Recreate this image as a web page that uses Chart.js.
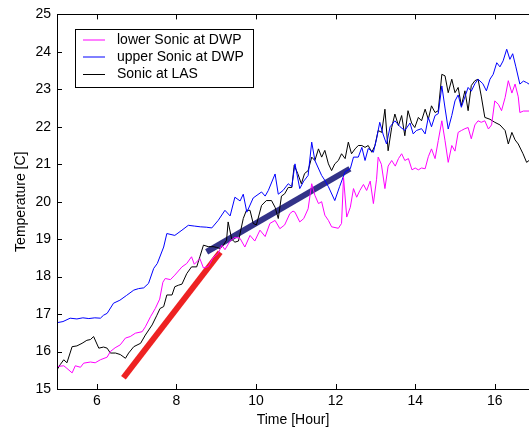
<!DOCTYPE html>
<html>
<head>
<meta charset="utf-8">
<script src="https://cdn.jsdelivr.net/npm/chart.js@4.4.1/dist/chart.umd.min.js"></script>
<style>
html,body{margin:0;padding:0;background:#fff;}
canvas{display:block;}
</style>
</head>
<body>
<canvas id="c" width="529" height="431"></canvas>
<script>
// ---- data ----
const xTicks = [6, 8, 10, 12, 14, 16];
const yTicks = [15, 16, 17, 18, 19, 20, 21, 22, 23, 24, 25];
const seriesLabels = ['lower Sonic at DWP', 'upper Sonic at DWP', 'Sonic at LAS'];

const lowerT = [5.00,5.17,5.25,5.38,5.46,5.59,5.67,5.84,5.96,6.09,6.26,6.34,6.46,6.59,6.72,6.84,6.97,7.14,7.22,7.35,7.47,7.58,7.66,7.72,7.85,7.96,8.05,8.14,8.26,8.38,8.45,8.59,8.68,8.80,8.92,9.05,9.14,9.22,9.35,9.47,9.60,9.72,9.85,9.97,10.10,10.23,10.35,10.48,10.60,10.72,10.85,10.93,10.98,11.10,11.20,11.31,11.40,11.48,11.57,11.65,11.73,11.82,11.90,12.07,12.15,12.20,12.28,12.37,12.45,12.53,12.61,12.70,12.78,12.87,12.95,13.03,13.07,13.15,13.24,13.32,13.41,13.50,13.58,13.66,13.74,13.83,13.92,14.00,14.08,14.16,14.25,14.33,14.41,14.50,14.58,14.67,14.75,14.83,14.92,15.00,15.08,15.16,15.25,15.33,15.41,15.50,15.58,15.66,15.75,15.84,15.92,16.00,16.09,16.17,16.26,16.34,16.43,16.51,16.59,16.63,16.72,16.86];
const lowerV = [15.60,15.62,15.55,15.43,15.62,15.58,15.69,15.72,15.70,15.78,15.85,16.00,16.10,16.18,16.36,16.40,16.49,16.53,16.66,16.93,17.15,17.40,17.85,17.95,17.92,18.04,18.15,18.26,18.35,18.53,18.33,18.48,18.23,18.27,18.50,18.62,18.84,18.72,18.95,19.05,19.02,18.79,19.10,18.95,19.24,19.07,19.42,19.50,19.28,19.38,19.68,19.75,19.72,19.46,19.55,19.81,20.48,20.17,19.95,20.00,19.64,19.50,19.33,19.29,19.42,20.65,19.59,19.85,20.35,20.12,20.30,20.46,20.30,20.55,19.95,20.60,21.19,21.00,20.35,20.95,21.10,20.95,21.15,21.28,21.10,21.15,20.85,20.90,20.85,20.90,20.88,21.20,21.41,21.15,21.63,22.16,21.63,21.05,21.50,21.35,21.85,21.90,21.95,21.98,21.68,22.05,22.16,22.12,22.16,21.94,22.05,22.69,22.60,22.43,22.78,23.23,22.90,23.14,22.80,22.38,22.42,22.42];

const upperT = [5.00,5.15,5.33,5.50,5.65,5.80,5.95,6.09,6.17,6.26,6.42,6.58,6.75,6.93,7.05,7.18,7.30,7.43,7.52,7.68,7.76,7.96,8.14,8.30,8.45,8.60,8.75,8.89,9.05,9.22,9.35,9.47,9.60,9.68,9.77,9.93,10.14,10.23,10.31,10.48,10.56,10.68,10.81,10.90,10.98,11.10,11.20,11.31,11.40,11.48,11.65,11.73,11.82,11.98,12.10,12.24,12.37,12.45,12.57,12.66,12.74,12.82,12.95,13.03,13.11,13.20,13.28,13.37,13.49,13.62,13.74,13.87,13.95,14.03,14.16,14.25,14.33,14.41,14.50,14.58,14.67,14.75,14.83,14.92,15.00,15.08,15.16,15.25,15.33,15.41,15.50,15.58,15.70,15.79,15.88,15.96,16.05,16.13,16.21,16.30,16.38,16.45,16.53,16.63,16.72,16.80,16.86];
const upperV = [16.77,16.80,16.89,16.87,16.90,16.88,16.90,16.89,16.97,17.02,17.29,17.37,17.50,17.64,17.68,17.70,17.82,18.22,18.35,18.79,19.15,19.10,19.24,19.37,19.35,19.33,19.32,19.30,19.50,19.77,19.62,20.12,20.02,20.20,19.72,20.10,20.26,20.15,20.30,20.74,20.20,20.30,20.48,20.40,21.01,20.35,20.55,20.70,21.59,21.10,20.70,20.57,20.40,20.03,20.40,20.80,20.88,21.19,21.19,21.45,21.10,21.42,21.32,21.68,22.12,21.78,21.54,22.00,22.16,22.00,21.90,22.10,21.81,21.90,21.95,21.81,22.25,22.00,22.30,22.35,23.09,22.50,21.94,22.30,22.69,22.85,22.52,22.80,23.05,22.95,23.15,23.27,23.15,22.96,23.27,23.40,23.71,23.60,23.76,24.07,23.80,23.95,23.60,23.14,23.22,23.18,23.14];

const lasT = [5.00,5.08,5.17,5.25,5.38,5.50,5.63,5.75,5.84,5.92,6.05,6.17,6.26,6.34,6.47,6.59,6.72,6.80,6.93,7.10,7.22,7.39,7.51,7.59,7.68,7.76,7.89,7.96,8.05,8.14,8.26,8.38,8.51,8.59,8.68,8.80,8.92,9.01,9.10,9.18,9.26,9.30,9.39,9.47,9.56,9.68,9.76,9.85,9.93,10.01,10.14,10.26,10.39,10.48,10.56,10.64,10.72,10.81,10.90,10.96,11.05,11.14,11.22,11.31,11.40,11.48,11.57,11.65,11.73,11.82,11.90,11.98,12.07,12.15,12.24,12.32,12.40,12.49,12.57,12.66,12.74,12.82,12.91,12.99,13.07,13.16,13.24,13.32,13.41,13.49,13.58,13.66,13.74,13.82,13.91,13.99,14.08,14.16,14.25,14.33,14.41,14.50,14.58,14.67,14.75,14.83,14.92,15.00,15.08,15.16,15.25,15.33,15.41,15.50,15.58,15.66,15.75,15.88,16.00,16.13,16.26,16.34,16.43,16.51,16.59,16.71,16.80,16.86];
const lasV = [15.51,15.65,15.78,15.70,16.13,16.15,16.22,16.30,16.32,16.40,16.09,16.12,16.09,15.96,15.96,15.92,15.82,15.96,16.13,16.22,16.44,16.71,16.97,17.15,17.20,17.51,17.51,17.73,17.77,17.80,18.08,18.26,18.26,18.53,18.84,18.80,18.80,18.78,18.75,18.84,18.97,19.46,19.00,18.92,18.95,19.55,19.77,19.77,19.42,19.38,19.90,20.03,20.03,19.85,19.55,20.15,20.21,20.38,20.38,20.97,20.75,20.48,20.75,20.83,21.19,21.10,21.41,21.19,21.37,21.01,20.83,21.01,21.10,21.28,21.15,21.59,21.28,21.41,21.50,21.50,21.45,21.50,21.32,21.50,21.90,21.85,22.47,21.36,21.98,22.34,22.03,22.30,21.76,22.43,22.10,21.98,22.25,22.16,22.47,22.20,22.56,22.38,22.43,23.40,23.36,22.91,23.27,22.91,23.05,22.56,22.96,22.43,23.10,23.23,23.27,22.82,22.25,22.20,22.12,22.05,21.90,21.54,21.85,21.65,21.54,21.28,21.05,21.10];

// fitted trend segments (end points)
const redFitT = [6.67, 9.10];
const redFitV = [15.30, 18.65];
const blueFitT = [8.76, 12.36];
const blueFitV = [18.66, 20.88];

function pts(ts, vs) { return ts.map((t, i) => ({x: t, y: vs[i]})); }

const FONT = "'Liberation Sans', Arial, sans-serif";
const FS = 14;

const framePlugin = {
  id: 'frame',
  afterDatasetsDraw(chart) {
    const {ctx, chartArea: a, scales: {x, y}} = chart;
    ctx.save();
    ctx.strokeStyle = '#000';
    ctx.lineWidth = 1;
    ctx.beginPath();
    ctx.rect(Math.round(a.left) + 0.5, Math.round(a.top) + 0.5, Math.round(a.right - a.left) + 2, Math.round(a.bottom - a.top));
    ctx.stroke();
    const tl = 5;
    ctx.beginPath();
    for (const v of yTicks) {
      const py = Math.round(y.getPixelForValue(v)) + 0.5;
      ctx.moveTo(a.left, py); ctx.lineTo(a.left + tl, py);
    }
    for (const v of xTicks) {
      const px = Math.round(x.getPixelForValue(v)) + 0.5;
      ctx.moveTo(px, a.bottom); ctx.lineTo(px, a.bottom - tl);
      ctx.moveTo(px, a.top); ctx.lineTo(px, a.top + tl);
    }
    ctx.stroke();

    // legend box
    const lx = 75, ly = 29, lw = 178, lh = 58;
    ctx.fillStyle = '#fff';
    ctx.fillRect(lx, ly, lw, lh);
    ctx.strokeRect(lx + 0.5, ly + 0.5, lw, lh);
    const rows = [39.5, 56.5, 74];
    ctx.font = FS + 'px ' + FONT;
    ctx.textBaseline = 'middle';
    ctx.textAlign = 'left';
    for (let i = 0; i < 3; i++) {
      const ds = chart.data.datasets[i];
      ctx.strokeStyle = ds.borderColor;
      ctx.beginPath();
      ctx.moveTo(83, rows[i] + 0.5); ctx.lineTo(105, rows[i] + 0.5);
      ctx.stroke();
      ctx.fillStyle = '#000';
      ctx.fillText(ds.label, 117, rows[i] + 0.5);
    }
    ctx.restore();
  }
};

new Chart(document.getElementById('c'), {
  type: 'line',
  data: {
    datasets: [
      {label: seriesLabels[0], data: pts(lowerT, lowerV), borderColor: '#ff00ff', borderWidth: 1, pointRadius: 0, tension: 0},
      {label: seriesLabels[1], data: pts(upperT, upperV), borderColor: '#0000ff', borderWidth: 1, pointRadius: 0, tension: 0},
      {label: seriesLabels[2], data: pts(lasT, lasV), borderColor: '#000000', borderWidth: 1, pointRadius: 0, tension: 0},
      {label: 'fit1', data: pts(redFitT, redFitV), borderColor: '#ee2222', borderWidth: 6, pointRadius: 0, tension: 0},
      {label: 'fit2', data: pts(blueFitT, blueFitV), borderColor: '#333388', borderWidth: 6, pointRadius: 0, tension: 0}
    ]
  },
  options: {
    responsive: false,
    animation: false,
    devicePixelRatio: 1,
    layout: {padding: {top: 13, right: 0, left: 0, bottom: 0}},
    plugins: {legend: {display: false}, tooltip: {enabled: false}},
    scales: {
      x: {
        type: 'linear', min: 5, max: 16.86,
        afterBuildTicks: s => { s.ticks = xTicks.map(v => ({value: v})); },
        afterFit: s => { s.height = 42; },
        grid: {display: false, drawTicks: false},
        border: {display: false},
        ticks: {color: '#000', font: {family: FONT, size: FS}, padding: 4, maxRotation: 0},
        title: {display: true, text: 'Time [Hour]', color: '#000', font: {family: FONT, size: FS}, padding: {top: 0, bottom: 2}}
      },
      y: {
        min: 15, max: 25,
        afterBuildTicks: s => { s.ticks = yTicks.map(v => ({value: v})); },
        afterFit: s => { s.width = 57; },
        grid: {display: false, drawTicks: false},
        border: {display: false},
        ticks: {color: '#000', font: {family: FONT, size: FS}, padding: 6},
        title: {display: true, text: 'Temperature [C]', color: '#000', font: {family: FONT, size: FS}, padding: {top: 13, bottom: 0}}
      }
    }
  },
  plugins: [framePlugin]
});
</script>
</body>
</html>
